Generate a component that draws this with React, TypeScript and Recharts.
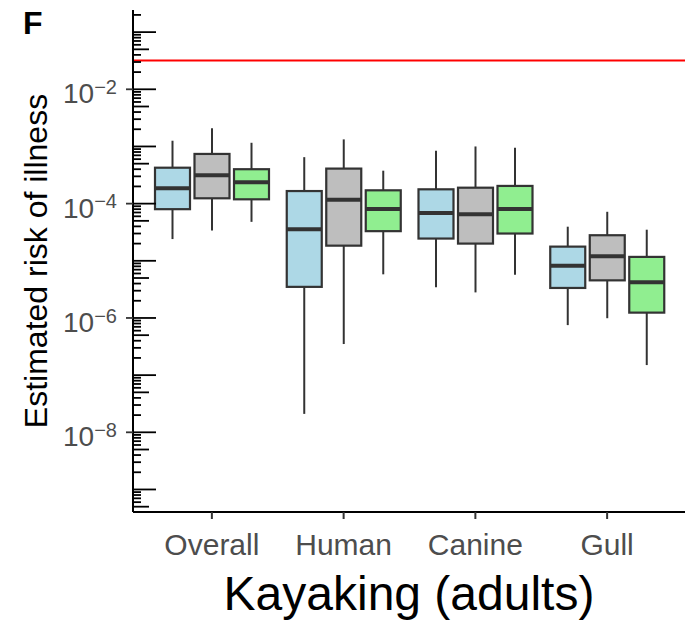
import { ComposedChart, Bar, XAxis, YAxis, ReferenceLine } from 'recharts'

const categories = ['Overall', 'Human', 'Canine', 'Gull']

// [whisker low, Q1, median, Q3, whisker high] for each category
const blueStats = [
  [2.4e-5, 8.0e-5, 1.85e-4, 4.25e-4, 1.26e-3],
  [2.1e-8, 3.5e-6, 3.55e-5, 1.66e-4, 6.5e-4],
  [3.45e-6, 2.45e-5, 6.85e-5, 1.78e-4, 8.4e-4],
  [7.5e-7, 3.35e-6, 8.2e-6, 1.77e-5, 3.95e-5],
]
const greyStats = [
  [3.4e-5, 1.24e-4, 3.13e-4, 7.4e-4, 2.08e-3],
  [3.5e-7, 1.84e-5, 1.17e-4, 4.1e-4, 1.33e-3],
  [2.8e-6, 2.0e-5, 6.5e-5, 1.9e-4, 1.0e-3],
  [9.9e-7, 4.55e-6, 1.2e-5, 2.8e-5, 7.2e-5],
]
const greenStats = [
  [4.8e-5, 1.19e-4, 2.36e-4, 4.0e-4, 1.16e-3],
  [5.8e-6, 3.3e-5, 8.05e-5, 1.71e-4, 3.77e-4],
  [5.7e-6, 3.0e-5, 8.05e-5, 2.04e-4, 9.5e-4],
  [1.5e-7, 1.24e-6, 4.2e-6, 1.17e-5, 3.5e-5],
]

const threshold = 0.032
const yLabelPowers = [-2, -4, -6, -8]
const yMin = Math.pow(10, -9.394)
const yMax = Math.pow(10, -0.613)

const W = 690
const H = 622
const PLOT_LEFT = 133
const PLOT_RIGHT = 685
const PLOT_TOP = 10
const PLOT_BOTTOM = 512
const Y_AXIS_W = 100
const X_AXIS_H = 50

const FONT = '"Liberation Sans", Arial, Helvetica, sans-serif'
const EDGE = '#333333'

const rows = categories.map((name, i) => ({
  name,
  blue: [blueStats[i][0], blueStats[i][4]],
  grey: [greyStats[i][0], greyStats[i][4]],
  green: [greenStats[i][0], greenStats[i][4]],
  blueStats: blueStats[i],
  greyStats: greyStats[i],
  greenStats: greenStats[i],
}))

// log ticks: 1..9 x 10^p inside the domain
const yTicks: number[] = []
for (let p = -10; p <= 0; p++) {
  for (let m = 1; m <= 9; m++) {
    const v = m * Math.pow(10, p)
    if (v >= yMin && v <= yMax) yTicks.push(v)
  }
}

// bar spans whisker low..high; box, median and whiskers are placed in log space inside it
function makeBox(fill: string, statsKey: string) {
  return (props: any) => {
    const { x, y, width, height, payload } = props
    const [lo, q1, med, q3, hi] = payload[statsKey]
    const top = Math.log10(hi)
    const span = top - Math.log10(lo)
    const py = (v: number) => y + (height * (top - Math.log10(v))) / span
    const cx = x + width / 2
    return (
      <g>
        <line x1={cx} x2={cx} y1={py(hi)} y2={py(q3)} stroke={EDGE} strokeWidth={2} />
        <line x1={cx} x2={cx} y1={py(q1)} y2={py(lo)} stroke={EDGE} strokeWidth={2} />
        <rect
          x={x}
          y={py(q3)}
          width={width}
          height={py(q1) - py(q3)}
          fill={fill}
          stroke={EDGE}
          strokeWidth={2.2}
        />
        <line x1={x} x2={x + width} y1={py(med)} y2={py(med)} stroke={EDGE} strokeWidth={4} />
      </g>
    )
  }
}

function LogTick(props: any) {
  const { x, y, payload } = props
  const v = payload.value
  const p = Math.floor(Math.log10(v) + 1e-6)
  const m = Math.round(v / Math.pow(10, p))
  const axisX = x + 16
  const len = m === 1 ? 23 : m === 5 ? 16 : 8
  const labelled = m === 1 && yLabelPowers.includes(p)
  return (
    <g>
      <line x1={axisX} x2={axisX + len} y1={y} y2={y} stroke="#000" strokeWidth={1.8} />
      {labelled && (
        <g>
          <line x1={axisX - 7} x2={axisX} y1={y} y2={y} stroke={EDGE} strokeWidth={1.8} />
          <text x={x} y={y + 14} textAnchor="end" fill="#4d4d4d" fontSize={28} fontFamily={FONT}>
            10
            <tspan dy={-9.4} fontSize={20}>
              {'\u2212' + String(-p)}
            </tspan>
          </text>
        </g>
      )}
    </g>
  )
}

function CategoryTick(props: any) {
  const { x, y, payload } = props
  return (
    <text x={x} y={y + 36} textAnchor="middle" fill="#4d4d4d" fontSize={30} fontFamily={FONT}>
      {payload.value}
    </text>
  )
}

export default function App() {
  return (
    <div style={{ position: 'absolute', left: 0, top: 0, width: W, height: H, background: '#fff' }}>
      <svg width={60} height={50} style={{ position: 'absolute', left: 0, top: 0 }}>
        <text x={23} y={34} fontSize={32} fontWeight="bold" fontFamily={FONT} fill="#000">
          F
        </text>
      </svg>
      <ComposedChart
        width={W}
        height={H}
        data={rows}
        margin={{
          top: PLOT_TOP,
          right: W - PLOT_RIGHT,
          bottom: H - PLOT_BOTTOM - X_AXIS_H,
          left: PLOT_LEFT - Y_AXIS_W,
        }}
        barSize={35}
        barGap={4.5}
      >
        <XAxis
          dataKey="name"
          height={X_AXIS_H}
          padding={{ left: 13, right: 12 }}
          axisLine={{ stroke: '#000', strokeWidth: 2 }}
          tickLine={{ stroke: EDGE, strokeWidth: 2 }}
          tickSize={7}
          tickMargin={0}
          tick={<CategoryTick />}
          interval={0}
          label={() => (
            <text
              x={(PLOT_LEFT + PLOT_RIGHT) / 2}
              y={610}
              textAnchor="middle"
              fontSize={48}
              fontFamily={FONT}
              fill="#000"
            >
              Kayaking (adults)
            </text>
          )}
        />
        <YAxis
          type="number"
          scale="log"
          domain={[yMin, yMax]}
          allowDataOverflow
          ticks={yTicks}
          interval={0}
          width={Y_AXIS_W}
          axisLine={{ stroke: '#000', strokeWidth: 2 }}
          tickLine={false}
          tickSize={7}
          tickMargin={9}
          tick={<LogTick />}
          label={() => (
            <text
              x={47}
              y={(PLOT_TOP + PLOT_BOTTOM) / 2}
              transform={`rotate(-90 47 ${(PLOT_TOP + PLOT_BOTTOM) / 2})`}
              textAnchor="middle"
              fontSize={32}
              fontFamily={FONT}
              fill="#000"
            >
              Estimated risk of illness
            </text>
          )}
        />
        <ReferenceLine y={threshold} stroke="#ff0000" strokeWidth={2} />
        <Bar dataKey="blue" shape={makeBox('#add8e6', 'blueStats')} isAnimationActive={false} />
        <Bar dataKey="grey" shape={makeBox('#bebebe', 'greyStats')} isAnimationActive={false} />
        <Bar dataKey="green" shape={makeBox('#90ee90', 'greenStats')} isAnimationActive={false} />
      </ComposedChart>
    </div>
  )
}
